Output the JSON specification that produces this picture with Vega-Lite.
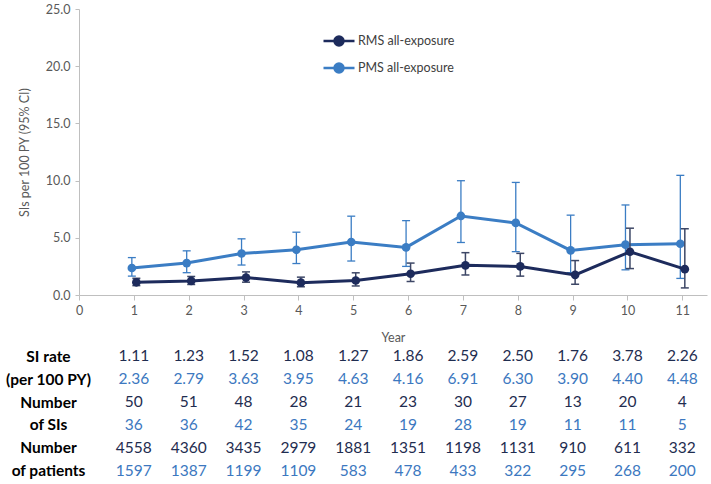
{
  "$schema": "https://vega.github.io/schema/vega-lite/v6.json",
  "padding": {"left": 5, "top": 3, "right": 4, "bottom": 4},
  "config": {"font": "Lato", "view": {"stroke": null}},
  "data": {"values": [
    {"year": 1, "series": "RMS all-exposure", "rate": 1.11, "lo": 0.82, "hi": 1.46, "nsi": 50, "npat": 4558},
    {"year": 2, "series": "RMS all-exposure", "rate": 1.23, "lo": 0.92, "hi": 1.62, "nsi": 51, "npat": 4360},
    {"year": 3, "series": "RMS all-exposure", "rate": 1.52, "lo": 1.12, "hi": 2.02, "nsi": 48, "npat": 3435},
    {"year": 4, "series": "RMS all-exposure", "rate": 1.08, "lo": 0.72, "hi": 1.56, "nsi": 28, "npat": 2979},
    {"year": 5, "series": "RMS all-exposure", "rate": 1.27, "lo": 0.79, "hi": 1.94, "nsi": 21, "npat": 1881},
    {"year": 6, "series": "RMS all-exposure", "rate": 1.86, "lo": 1.18, "hi": 2.79, "nsi": 23, "npat": 1351},
    {"year": 7, "series": "RMS all-exposure", "rate": 2.59, "lo": 1.75, "hi": 3.70, "nsi": 30, "npat": 1198},
    {"year": 8, "series": "RMS all-exposure", "rate": 2.50, "lo": 1.65, "hi": 3.64, "nsi": 27, "npat": 1131},
    {"year": 9, "series": "RMS all-exposure", "rate": 1.76, "lo": 0.94, "hi": 3.01, "nsi": 13, "npat": 910},
    {"year": 10, "series": "RMS all-exposure", "rate": 3.78, "lo": 2.31, "hi": 5.84, "nsi": 20, "npat": 611},
    {"year": 11, "series": "RMS all-exposure", "rate": 2.26, "lo": 0.62, "hi": 5.79, "nsi": 4, "npat": 332},
    {"year": 1, "series": "PMS all-exposure", "rate": 2.36, "lo": 1.65, "hi": 3.27, "nsi": 36, "npat": 1597},
    {"year": 2, "series": "PMS all-exposure", "rate": 2.79, "lo": 1.95, "hi": 3.86, "nsi": 36, "npat": 1387},
    {"year": 3, "series": "PMS all-exposure", "rate": 3.63, "lo": 2.62, "hi": 4.91, "nsi": 42, "npat": 1199},
    {"year": 4, "series": "PMS all-exposure", "rate": 3.95, "lo": 2.75, "hi": 5.49, "nsi": 35, "npat": 1109},
    {"year": 5, "series": "PMS all-exposure", "rate": 4.63, "lo": 2.97, "hi": 6.89, "nsi": 24, "npat": 583},
    {"year": 6, "series": "PMS all-exposure", "rate": 4.16, "lo": 2.50, "hi": 6.50, "nsi": 19, "npat": 478},
    {"year": 7, "series": "PMS all-exposure", "rate": 6.91, "lo": 4.59, "hi": 9.99, "nsi": 28, "npat": 433},
    {"year": 8, "series": "PMS all-exposure", "rate": 6.30, "lo": 3.79, "hi": 9.84, "nsi": 19, "npat": 322},
    {"year": 9, "series": "PMS all-exposure", "rate": 3.90, "lo": 1.95, "hi": 6.98, "nsi": 11, "npat": 295},
    {"year": 10, "series": "PMS all-exposure", "rate": 4.40, "lo": 2.20, "hi": 7.87, "nsi": 11, "npat": 268},
    {"year": 11, "series": "PMS all-exposure", "rate": 4.48, "lo": 1.45, "hi": 10.46, "nsi": 5, "npat": 200}
  ]},
  "bounds": "flush",
  "spacing": 50,
  "resolve": {"scale": {"color": "independent"}, "legend": {"color": "independent"}},
  "vconcat": [
    {
      "width": 628,
      "height": 286,
      "encoding": {
        "x": {"field": "year", "type": "quantitative", "scale": {"domain": [0, 11.45], "nice": false},
          "axis": {"values": [0,1,2,3,4,5,6,7,8,9,10,11], "grid": false, "labelFlush": false, "domainColor": "#bfbfbf", "tickColor": "#bfbfbf", "tickSize": 5, "labelColor": "#595959", "labelFontSize": 12.5, "labelPadding": 4, "title": "Year", "titleColor": "#595959", "titleFontSize": 12.5, "titleFontWeight": "normal", "titlePadding": 15}}
      },
      "layer": [
        {
          "transform": [{"filter": "datum.series === 'PMS all-exposure'"}],
          "mark": {"type": "rule", "color": "#3b7dc4", "strokeWidth": 1.3, "xOffset": -2},
          "encoding": {
            "y": {"field": "lo", "type": "quantitative", "scale": {"domain": [0, 25], "nice": false},
              "axis": {"title": "SIs per 100 PY (95% CI)", "values": [0,5,10,15,20,25], "format": ".1f", "grid": false, "domainColor": "#bfbfbf", "tickColor": "#bfbfbf", "tickSize": 4, "labelColor": "#595959", "labelFontSize": 12.5, "labelPadding": 5, "titleColor": "#595959", "titleFontSize": 12.5, "titleFontWeight": "normal", "titlePadding": 14}},
            "y2": {"field": "hi"}
          }
        },
        {
          "transform": [{"filter": "datum.series === 'PMS all-exposure'"}],
          "mark": {"type": "tick", "orient": "horizontal", "color": "#3b7dc4", "size": 8, "thickness": 1.3, "opacity": 1, "xOffset": -2},
          "encoding": {"y": {"field": "hi", "type": "quantitative"}}
        },
        {
          "transform": [{"filter": "datum.series === 'PMS all-exposure'"}],
          "mark": {"type": "tick", "orient": "horizontal", "color": "#3b7dc4", "size": 8, "thickness": 1.3, "opacity": 1, "xOffset": -2},
          "encoding": {"y": {"field": "lo", "type": "quantitative"}}
        },
        {
          "transform": [{"filter": "datum.series === 'PMS all-exposure'"}],
          "mark": {"type": "line", "strokeWidth": 3, "xOffset": -2},
          "encoding": {
            "y": {"field": "rate", "type": "quantitative"},
            "color": {"field": "series", "type": "nominal",
              "scale": {"domain": ["RMS all-exposure", "PMS all-exposure"], "range": ["#1d2b5c", "#3b7dc4"]},
              "legend": {"orient": "none", "legendX": 243, "legendY": 15, "title": null,
                "symbolType": "M-1,0H1M0.29,0A0.29,0.29,0,1,1,-0.29,0A0.29,0.29,0,1,1,0.29,0Z",
                "symbolSize": 961, "symbolStrokeWidth": 2.5, "labelFontSize": 12.5, "labelColor": "#404040", "labelOffset": 2, "rowPadding": 0,
                "encode": {"symbols": {"update": {
                  "fill": {"signal": "datum.value === 'RMS all-exposure' ? '#1d2b5c' : '#3b7dc4'"},
                  "stroke": {"signal": "datum.value === 'RMS all-exposure' ? '#1d2b5c' : '#3b7dc4'"},
                  "opacity": {"value": 1}}}}}}
          }
        },
        {
          "transform": [{"filter": "datum.series === 'PMS all-exposure'"}],
          "mark": {"type": "point", "filled": true, "size": 75, "opacity": 1, "xOffset": -2},
          "encoding": {
            "y": {"field": "rate", "type": "quantitative"},
            "color": {"field": "series", "type": "nominal"}
          }
        },
        {
          "transform": [{"filter": "datum.series === 'RMS all-exposure'"}],
          "mark": {"type": "rule", "color": "#3d4766", "strokeWidth": 1.5, "xOffset": 2.5},
          "encoding": {"y": {"field": "lo", "type": "quantitative"}, "y2": {"field": "hi"}}
        },
        {
          "transform": [{"filter": "datum.series === 'RMS all-exposure'"}],
          "mark": {"type": "tick", "orient": "horizontal", "color": "#3d4766", "size": 8, "thickness": 1.5, "opacity": 1, "xOffset": 2.5},
          "encoding": {"y": {"field": "hi", "type": "quantitative"}}
        },
        {
          "transform": [{"filter": "datum.series === 'RMS all-exposure'"}],
          "mark": {"type": "tick", "orient": "horizontal", "color": "#3d4766", "size": 8, "thickness": 1.5, "opacity": 1, "xOffset": 2.5},
          "encoding": {"y": {"field": "lo", "type": "quantitative"}}
        },
        {
          "transform": [{"filter": "datum.series === 'RMS all-exposure'"}],
          "mark": {"type": "line", "strokeWidth": 3, "xOffset": 2.5},
          "encoding": {
            "y": {"field": "rate", "type": "quantitative"},
            "color": {"field": "series", "type": "nominal"}
          }
        },
        {
          "transform": [{"filter": "datum.series === 'RMS all-exposure'"}],
          "mark": {"type": "point", "filled": true, "size": 75, "opacity": 1, "xOffset": 2.5},
          "encoding": {
            "y": {"field": "rate", "type": "quantitative"},
            "color": {"field": "series", "type": "nominal"}
          }
        }
      ]
    },
    {
      "width": 628,
      "height": 137,
      "transform": [
        {"fold": ["rate", "nsi", "npat"], "as": ["key", "value"]},
        {"calculate": "datum.key + '|' + datum.series", "as": "row"},
        {"calculate": "datum.key === 'rate' ? format(datum.value, '.2f') : format(datum.value, 'd')", "as": "label"}
      ],
      "mark": {"type": "text", "fontSize": 15.5, "align": "center", "baseline": "middle"},
      "encoding": {
        "x": {"field": "year", "type": "quantitative", "scale": {"domain": [0, 11.45], "nice": false}, "axis": null},
        "y": {"field": "row", "type": "ordinal",
          "sort": ["rate|RMS all-exposure", "rate|PMS all-exposure", "nsi|RMS all-exposure", "nsi|PMS all-exposure", "npat|RMS all-exposure", "npat|PMS all-exposure"],
          "scale": {"paddingInner": 0, "paddingOuter": 0},
          "axis": {"title": null, "domain": false, "ticks": false, "tickSize": 0, "labelAlign": "center", "labelPadding": 31, "labelFontSize": 15.5, "labelFontWeight": "bold", "labelColor": "#000000",
            "labelExpr": "{'rate|RMS all-exposure': 'SI rate', 'rate|PMS all-exposure': '(per 100 PY)', 'nsi|RMS all-exposure': 'Number', 'nsi|PMS all-exposure': 'of SIs', 'npat|RMS all-exposure': 'Number', 'npat|PMS all-exposure': 'of patients'}[datum.value]"}},
        "text": {"field": "label"},
        "color": {"field": "series", "type": "nominal",
          "scale": {"domain": ["RMS all-exposure", "PMS all-exposure"], "range": ["#1f2d50", "#3c78c0"]}, "legend": null}
      }
    }
  ]
}
